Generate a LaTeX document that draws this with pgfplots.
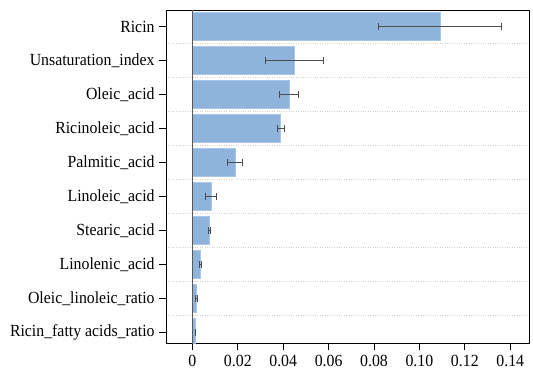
\documentclass[border=0pt]{standalone}
\usepackage{fontspec}
\setmainfont[FakeStretch=0.93]{Liberation Serif}
\usepackage{pgfplots}
\usepackage{pgfplotstable}
\pgfplotsset{compat=1.18}
\definecolor{barblue}{HTML}{8FB4DC}
\definecolor{baredge}{HTML}{A9C6E6}
\pgfplotstableread{
y x err
9 0.1090 0.0270
8 0.0448 0.0127
7 0.0427 0.0042
6 0.0389 0.0015
5 0.0188 0.0034
4 0.0081 0.0024
3 0.0074 0.0003
2 0.0035 0.0003
1 0.0019 0.0004
0 0.0012 0.0001
}\datatable
\begin{document}
\begin{tikzpicture}
\begin{axis}[
  scale only axis,
  width=363pt, height=333pt,
  xmin=-0.0116, xmax=0.1484,
  ymin=-0.32, ymax=9.49,
  axis line style={black, line width=0.8pt},
  xtick={0,0.02,0.04,0.06,0.08,0.10,0.12,0.14},
  xticklabels={0,0.02,0.04,0.06,0.08,0.10,0.12,0.14},
  ytick={0,...,9},
  yticklabels={Ricin\_fatty acids\_ratio,Oleic\_linoleic\_ratio,Linolenic\_acid,Stearic\_acid,Linoleic\_acid,Palmitic\_acid,Ricinoleic\_acid,Oleic\_acid,Unsaturation\_index,Ricin},
  minor ytick={0.5,1.5,...,8.5},
  yminorgrids=true,
  minor grid style={gray!35, dotted, line width=0.6pt},
  minor tick length=0pt,
  tick align=outside,
  major tick length=7pt,
  tick style={black, line width=0.8pt},
  xtick pos=bottom, ytick pos=left,
  ticklabel style={font=\fontsize{17}{20}\selectfont},
  /pgf/number format/assume math mode=true,
  xticklabel style={yshift=-1pt},
  yticklabel style={xshift=-1pt},
  clip=true,
]
\addplot[xbar, bar width=0.82, fill=barblue, draw=baredge, line width=0.6pt,
  error bars/.cd, x dir=both, x explicit,
  error bar style={line width=0.8pt, color=black!70},
  error mark options={line width=0.8pt, color=black!70, mark size=3.3pt, rotate=90}]
  table[x=x, y=y, x error=err] {\datatable};
\addplot[line width=1.6pt, color=black!65, mark=none] coordinates {(0,-1) (0,10)};
\end{axis}
\path (current axis.south west) ++(-166pt,-29.3pt) coordinate (bbA);
\path (current axis.north east) ++(3.7pt,10pt) coordinate (bbB);
\useasboundingbox (bbA) rectangle (bbB);
\end{tikzpicture}
\end{document}
